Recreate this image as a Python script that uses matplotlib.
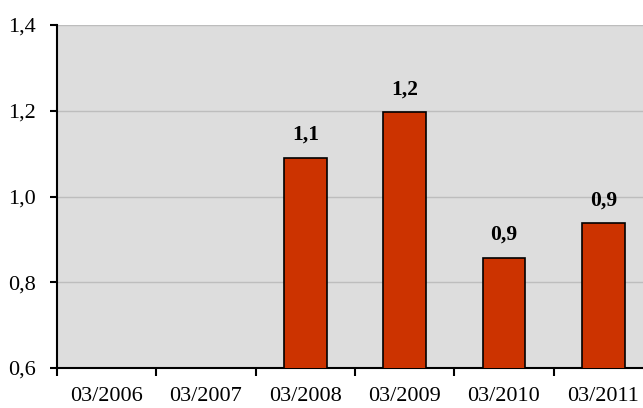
import numpy as np
import matplotlib.pyplot as plt
from matplotlib.ticker import FixedLocator

# donnees
dates = ["03/2006", "03/2007", "03/2008", "03/2009", "03/2010", "03/2011"]
valeurs = [np.nan, np.nan, 1.09, 1.196, 0.857, 0.938]
etiquettes = ["", "", "1,1", "1,2", "0,9", "0,9"]
yticks = [0.6, 0.8, 1.0, 1.2, 1.4]

plt.rcParams['font.family'] = ['Liberation Serif', 'DejaVu Serif']

fig = plt.figure(figsize=(6.43, 4.08), dpi=100)
ax = fig.add_axes([57/643, 40/408, 1 - 57/643, 343/408])
ax.set_facecolor("#DDDDDD")

x = np.arange(len(dates))
ax.bar(x, valeurs, width=0.43, color="#CC3300", edgecolor="black", linewidth=1.2, zorder=3)

for xi, v, lab in zip(x, valeurs, etiquettes):
    if lab:
        ax.text(xi, v + 0.03, lab, ha="center", va="bottom", fontsize=15.5,
                fontweight="bold", zorder=4)

ax.set_xlim(-0.5, 5.4)
ax.set_ylim(0.6, 1.4)
ax.set_yticks(yticks)
ax.set_yticklabels([f"{t:.1f}".replace(".", ",") for t in yticks])
ax.set_xticks(x)
ax.set_xticklabels(dates)
ax.xaxis.set_minor_locator(FixedLocator(np.arange(-0.5, 5.5, 1)))

ax.grid(axis="y", color="#BDBDBD", linewidth=1, zorder=0)
ax.tick_params(axis="x", which="major", length=0, pad=14, labelsize=16)
ax.tick_params(axis="x", which="minor", length=6, width=1.5, color="black")
ax.tick_params(axis="y", length=5, width=1.5, labelsize=16, pad=10)

for s in ["top", "right"]:
    ax.spines[s].set_visible(False)
ax.spines["left"].set_linewidth(1.5)
ax.spines["bottom"].set_linewidth(1.5)

plt.savefig("out.png", dpi=100)
